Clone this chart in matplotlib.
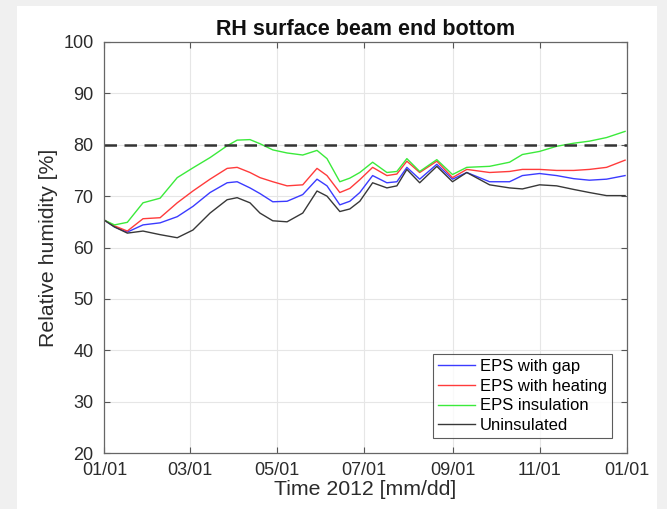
import matplotlib
matplotlib.use("Agg")
import matplotlib.pyplot as plt
from matplotlib.patches import Rectangle
import numpy as np

plt.rcParams['font.family'] = ['Liberation Sans', 'DejaVu Sans']

# Day of year 2012 (leap year, 366 days) for each sample
days = [0, 7, 16, 27, 39, 51, 62, 74, 86, 93, 102, 109, 118, 128, 139, 149, 156,
        165, 172, 179, 188, 198, 205, 212, 221, 233, 244, 254, 270, 284, 293, 305,
        317, 329, 340, 352, 365]

eps_gap = [65.3, 64.0, 63.0, 64.4, 64.8, 66.0, 68.0, 70.7, 72.6, 72.8, 71.6, 70.5,
           68.9, 69.0, 70.3, 73.3, 72.0, 68.3, 69.0, 70.7, 74.0, 72.6, 72.8, 75.6,
           73.3, 76.2, 73.3, 74.6, 72.8, 72.8, 74.0, 74.4, 74.0, 73.4, 73.1, 73.3, 74.0]

eps_heating = [65.3, 64.2, 63.2, 65.6, 65.8, 68.7, 71.0, 73.3, 75.4, 75.6, 74.6, 73.6,
               72.8, 72.0, 72.2, 75.4, 74.0, 70.7, 71.5, 73.2, 75.6, 74.0, 74.3, 76.8,
               74.6, 76.8, 73.6, 75.2, 74.6, 74.8, 75.2, 75.2, 75.0, 75.0, 75.2, 75.6, 77.0]

eps_insulation = [65.3, 64.4, 64.9, 68.7, 69.6, 73.6, 75.5, 77.5, 79.8, 80.9, 81.0, 80.2,
                  79.0, 78.4, 78.0, 78.9, 77.3, 72.8, 73.5, 74.6, 76.6, 74.6, 74.8, 77.3,
                  74.8, 77.1, 74.2, 75.6, 75.8, 76.6, 78.1, 78.7, 79.7, 80.3, 80.7, 81.4, 82.6]

uninsulated = [65.3, 64.0, 62.8, 63.2, 62.5, 61.9, 63.4, 66.7, 69.3, 69.7, 68.7, 66.7,
               65.2, 65.0, 66.7, 71.0, 70.0, 67.0, 67.5, 69.0, 72.6, 71.6, 72.0, 75.2,
               72.6, 75.8, 72.8, 74.6, 72.2, 71.6, 71.4, 72.2, 72.0, 71.3, 70.7, 70.1, 70.1]

series_names = ['EPS with gap', 'EPS with heating', 'EPS insulation', 'Uninsulated']
series_colors = ['#3b3bff', '#ff3b3b', '#3bea3b', '#383838']

limit_rh = 80
tick_days = [0, 60, 121, 182, 244, 305, 366]
tick_labels = ['01/01', '03/01', '05/01', '07/01', '09/01', '11/01', '01/01']

fig = plt.figure(figsize=(6.67, 5.09), dpi=100, facecolor='#f0f0f0')
# white panel behind the axes
fig.patches.append(Rectangle((17 / 667, 0), 640 / 667, 503 / 509,
                             transform=fig.transFigure, facecolor='white',
                             edgecolor='none', zorder=-10))

ax = fig.add_axes([104.5 / 667, 1 - 453 / 509, 522 / 667, 411 / 509])
ax.set_zorder(1)
ax.set_facecolor('white')

for vals, name, col in zip([eps_gap, eps_heating, eps_insulation, uninsulated],
                           series_names, series_colors):
    ax.plot(days, vals, color=col, lw=1.0, label=name)

ax.axhline(limit_rh, color='#333333', lw=1.8, ls=(0, (5, 3)))

ax.set_xlim(0, 366)
ax.set_ylim(20, 100)
ax.set_xticks(tick_days)
ax.set_xticklabels(tick_labels)
ax.set_yticks(np.arange(20, 101, 10))
ax.grid(True, color='#e6e6e6', lw=0.8)
ax.set_axisbelow(True)
ax.tick_params(direction='in', length=4, width=0.8, color='#555555',
               labelsize=13, labelcolor='#2b2b2b', top=True, right=True)
ax.tick_params(axis='x', pad=6.5)
ax.tick_params(axis='y', pad=8)
for s in ax.spines.values():
    s.set_color('#666666')
    s.set_linewidth(0.9)

ax.set_title('RH surface beam end bottom', fontsize=15.5, fontweight='bold',
             color='#111111', pad=5)
ax.set_xlabel('Time 2012 [mm/dd]', fontsize=15.3, color='#2b2b2b', labelpad=1)
ax.set_ylabel('Relative humidity [%]', fontsize=15.3, color='#2b2b2b', labelpad=4)

leg = ax.legend(loc='lower right', fontsize=12, frameon=True, fancybox=False,
                edgecolor='#333333', handlelength=2.2, handletextpad=0.3,
                borderpad=0.3, labelspacing=0.28, borderaxespad=0.9)
leg.get_frame().set_linewidth(0.8)
for line in leg.get_lines():
    line.set_linewidth(1.0)

fig.savefig('out.png', dpi=100, facecolor=fig.get_facecolor())
